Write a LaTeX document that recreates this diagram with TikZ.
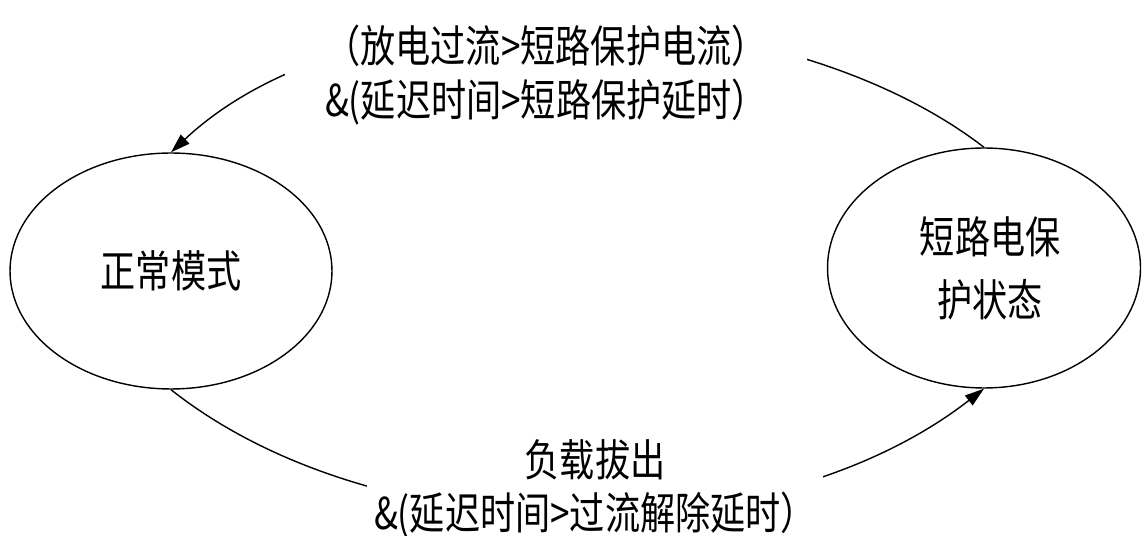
\documentclass[tikz,border=0pt]{standalone}
\usepackage{fontspec}
\newfontfamily\cjk[FakeStretch=0.8]{Noto Sans CJK SC}
\usetikzlibrary{shapes.geometric,arrows.meta}
\begin{document}
\begin{tikzpicture}[x=0.02cm,y=-0.02cm,
  state/.style={draw, line width=0.8pt, ellipse, inner sep=0pt, align=center},
  conn/.style={line width=0.8pt, -{Triangle[length=11pt,width=7pt]}},
  lbl/.style={fill=white, align=center, inner ysep=2pt},
  txt/.style={font=\cjk\fontsize{25pt}{31pt}\selectfont}]
\useasboundingbox (0,0) rectangle (1142,536);
\node[state, txt, minimum width=6.44cm, minimum height=4.72cm] (normal) at (171,271) {正常模式};
\node[state, minimum width=6.26cm, minimum height=4.8cm, font=\cjk\fontsize{25pt}{36pt}\selectfont] (short) at (984,268) {\hspace*{0.25cm}短路电保\\\hspace*{0.25cm}护状态};
\draw[conn] (short.north) .. controls (780,-10) and (360,-25) .. (normal.north);
\draw[conn] (normal.south) .. controls (380,555) and (770,555) .. (short.south);
\node[lbl, txt, inner xsep=0.8cm, inner ysep=6pt] (top) at (546,75) {（放电过流>短路保护电流）\\\&(延迟时间>短路保护延时）};
\node[lbl, font=\cjk\fontsize{25pt}{30pt}\selectfont, inner xsep=0.14cm] (bot) at (595,489) {负载拔出\\\&(延迟时间>过流解除延时）};
\end{tikzpicture}
\end{document}
